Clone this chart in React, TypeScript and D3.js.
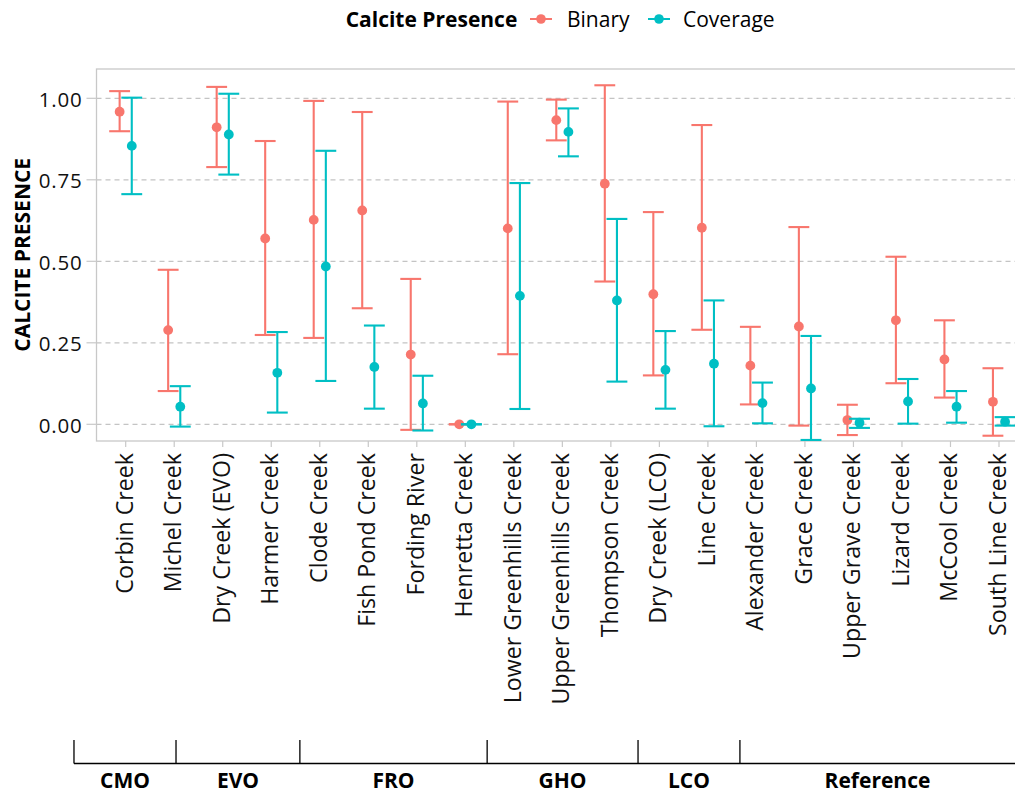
import React from "react";
import * as d3 from "d3";

const categories = [
  "Corbin Creek", "Michel Creek", "Dry Creek (EVO)", "Harmer Creek", "Clode Creek",
  "Fish Pond Creek", "Fording River", "Henretta Creek", "Lower Greenhills Creek",
  "Upper Greenhills Creek", "Thompson Creek", "Dry Creek (LCO)", "Line Creek",
  "Alexander Creek", "Grace Creek", "Upper Grave Creek", "Lizard Creek",
  "McCool Creek", "South Line Creek",
];

const binaryMean = [0.959, 0.289, 0.911, 0.570, 0.627, 0.656, 0.214, 0, 0.601, 0.933, 0.738, 0.399, 0.603, 0.180, 0.300, 0.013, 0.319, 0.199, 0.069];
const binaryLower = [0.899, 0.102, 0.789, 0.274, 0.265, 0.356, -0.017, 0, 0.215, 0.871, 0.438, 0.150, 0.290, 0.061, -0.004, -0.033, 0.126, 0.082, -0.035];
const binaryUpper = [1.022, 0.474, 1.035, 0.869, 0.992, 0.958, 0.446, 0, 0.990, 0.996, 1.040, 0.651, 0.918, 0.299, 0.605, 0.060, 0.514, 0.319, 0.172];

const coverageMean = [0.854, 0.054, 0.889, 0.158, 0.484, 0.176, 0.064, 0, 0.394, 0.897, 0.380, 0.167, 0.186, 0.065, 0.110, 0.005, 0.070, 0.054, 0.008];
const coverageLower = [0.706, -0.007, 0.766, 0.036, 0.133, 0.048, -0.019, 0, 0.047, 0.822, 0.131, 0.048, -0.006, 0.003, -0.048, -0.011, 0.002, 0.005, -0.004];
const coverageUpper = [1.002, 0.117, 1.014, 0.283, 0.839, 0.303, 0.149, 0, 0.740, 0.969, 0.630, 0.286, 0.380, 0.128, 0.271, 0.017, 0.139, 0.102, 0.022];

const yTicks = [0, 0.25, 0.5, 0.75, 1.0];

const seriesNames = ["Binary", "Coverage"];
const seriesColors = ["#F8766D", "#00BFC4"];

const groupNames = ["CMO", "EVO", "FRO", "GHO", "LCO", "Reference"];
// group bracket boundaries, in category-index units
const groupBreaks = [-1.066, 1.037, 3.59, 7.45, 10.56, 12.66, 18.33];

const W = 1015;
const H = 794;
const FONT = "'Open Sans', 'DejaVu Sans', sans-serif";

export default function App() {
  const panelLeft = 96.5;
  const panelTop = 69;
  const panelBottom = 441;
  const n = categories.length;

  const x = d3.scalePoint<string>().domain(categories).range([125.7, 999]);
  const step = x.step();
  const panelRight = x(categories[n - 1])! + step * 0.6;
  const xIdx = d3.scaleLinear().domain([0, n - 1]).range([x(categories[0])!, x(categories[n - 1])!]);

  const y = d3.scaleLinear().domain([-0.0512, 1.0899]).range([panelBottom, panelTop]);

  const dodge = step * 0.125;
  const capHalf = step * 0.215;

  const series = [
    { name: seriesNames[0], color: seriesColors[0], mean: binaryMean, lo: binaryLower, hi: binaryUpper, off: -dodge },
    { name: seriesNames[1], color: seriesColors[1], mean: coverageMean, lo: coverageLower, hi: coverageUpper, off: dodge },
  ];

  const gridColor = "#c4c4c4";
  const borderColor = "#c8c8c8";

  return (
    <svg width={W} height={H} style={{ position: "absolute", left: 0, top: 0, background: "#fff" }} fontFamily={FONT}>
      {/* legend */}
      <g>
        <text x={345.7} y={26.5} fontSize={21} fontWeight="bold" fill="#000">Calcite Presence</text>
        {[0, 1].map((i) => {
          const cx = i === 0 ? 541 : 659;
          const tx = i === 0 ? 567 : 683;
          return (
            <g key={i}>
              <line x1={cx - 11} x2={cx + 11} y1={19} y2={19} stroke={seriesColors[i]} strokeWidth={2} />
              <circle cx={cx} cy={19} r={4.8} fill={seriesColors[i]} />
              <text x={tx} y={26.5} fontSize={21} fill="#000">{seriesNames[i]}</text>
            </g>
          );
        })}
      </g>

      {/* gridlines */}
      {yTicks.map((t) => (
        <line key={t} x1={panelLeft} x2={panelRight} y1={y(t)} y2={y(t)} stroke={gridColor} strokeWidth={1.2} strokeDasharray="5,4" />
      ))}

      {/* panel border */}
      <rect x={panelLeft} y={panelTop} width={panelRight - panelLeft} height={panelBottom - panelTop} fill="none" stroke={borderColor} strokeWidth={1.3} />

      {/* y axis ticks and labels */}
      {yTicks.map((t) => (
        <g key={t}>
          <line x1={panelLeft - 10} x2={panelLeft} y1={y(t)} y2={y(t)} stroke={borderColor} strokeWidth={1.2} />
          <text x={82.5} y={y(t) + 8.2} fontSize={20.5} letterSpacing={0.8} textAnchor="end" fill="#111">{t.toFixed(2)}</text>
        </g>
      ))}
      <text transform={`translate(29.5,254.8) rotate(-90)`} fontSize={21} fontWeight="bold" textAnchor="middle" fill="#000">CALCITE PRESENCE</text>

      {/* x axis ticks and labels */}
      {categories.map((c) => (
        <g key={c}>
          <line x1={x(c)!} x2={x(c)!} y1={panelBottom} y2={panelBottom + 6} stroke={borderColor} strokeWidth={1.2} />
          <text transform={`translate(${x(c)! + 7},453) rotate(-90)`} fontSize={23.2} textAnchor="end" fill="#111">{c}</text>
        </g>
      ))}

      {/* error bars and points */}
      {series.map((s) => (
        <g key={s.name}>
          {categories.map((c, i) => {
            const cx = x(c)! + s.off;
            return (
              <g key={c}>
                <line x1={cx} x2={cx} y1={y(s.lo[i])} y2={y(s.hi[i])} stroke={s.color} strokeWidth={2.1} />
                <line x1={cx - capHalf} x2={cx + capHalf} y1={y(s.lo[i])} y2={y(s.lo[i])} stroke={s.color} strokeWidth={2.1} />
                <line x1={cx - capHalf} x2={cx + capHalf} y1={y(s.hi[i])} y2={y(s.hi[i])} stroke={s.color} strokeWidth={2.1} />
                <circle cx={cx} cy={y(s.mean[i])} r={4.9} fill={s.color} />
              </g>
            );
          })}
        </g>
      ))}

      {/* group brackets */}
      <g>
        <line x1={xIdx(groupBreaks[0])} x2={xIdx(groupBreaks[groupBreaks.length - 1])} y1={763.5} y2={763.5} stroke="#000" strokeWidth={1.3} />
        {groupBreaks.slice(0, -1).map((b, i) => (
          <line key={i} x1={xIdx(b)} x2={xIdx(b)} y1={740} y2={763.5} stroke="#000" strokeWidth={1.3} />
        ))}
        {groupNames.map((g, i) => (
          <text key={g} x={(xIdx(groupBreaks[i]) + xIdx(groupBreaks[i + 1])) / 2} y={788} fontSize={21} fontWeight="bold" textAnchor="middle" fill="#000">{g}</text>
        ))}
      </g>
    </svg>
  );
}
